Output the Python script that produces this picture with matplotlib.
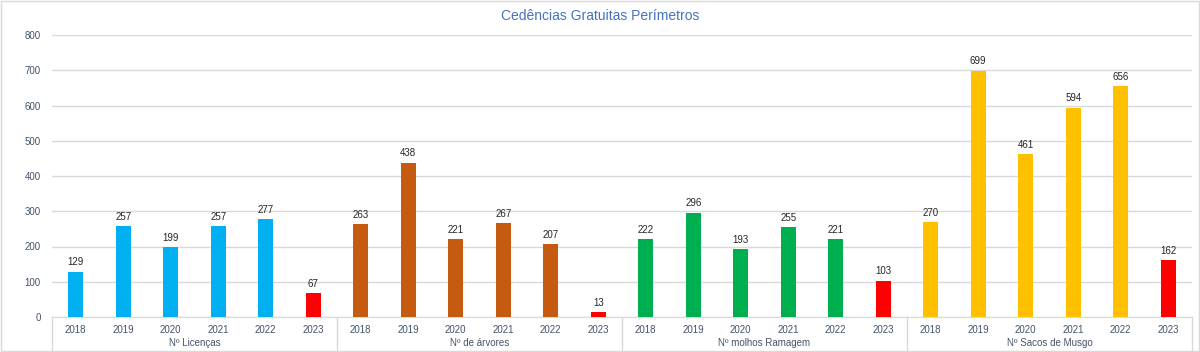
import matplotlib.pyplot as plt
from matplotlib.transforms import blended_transform_factory

# --- dados ---
anos = ['2018', '2019', '2020', '2021', '2022', '2023']
grupos = ['Nº Licenças', 'Nº de árvores', 'Nº molhos Ramagem', 'Nº Sacos de Musgo']
licencas = [129, 257, 199, 257, 277, 67]
arvores = [263, 438, 221, 267, 207, 13]
ramagem = [222, 296, 193, 255, 221, 103]
musgo = [270, 699, 461, 594, 656, 162]

cores_grupo = ['#00B0F0', '#C55A11', '#00B050', '#FFC000']
cor_2023 = '#FF0000'

plt.rcParams['font.family'] = ['Liberation Sans', 'DejaVu Sans']

fig = plt.figure(figsize=(12, 3.52), dpi=100)
ax = fig.add_axes([52 / 1200, 1 - 317 / 352, 1140 / 1200, 282 / 352])

series = [licencas, arvores, ramagem, musgo]
x = 0
for g, vals in enumerate(series):
    for i, v in enumerate(vals):
        cor = cor_2023 if anos[i] == '2023' else cores_grupo[g]
        ax.bar(x, v, width=0.32, color=cor, zorder=3)
        ax.text(x, v + 12, str(v), ha='center', va='bottom', fontsize=7, color='#262626')
        x += 1

n = x
ax.set_xlim(-0.5, n - 0.5)
ax.set_ylim(0, 800)
ax.set_yticks(range(0, 801, 100))
ax.tick_params(axis='y', length=0, labelsize=7, labelcolor='#44546A', pad=8)
ax.grid(axis='y', color='#D9D9D9', linewidth=1, zorder=0)
for s in ['top', 'right', 'left']:
    ax.spines[s].set_visible(False)
ax.spines['bottom'].set_color('#D9D9D9')

ax.set_xticks(range(n))
ax.set_xticklabels(anos * len(grupos))
ax.tick_params(axis='x', length=0, labelsize=7, labelcolor='#44546A', pad=6)

# rótulos dos grupos e separadores
trans = blended_transform_factory(ax.transData, ax.transAxes)
for g, nome in enumerate(grupos):
    centro = g * 6 + 2.5
    ax.text(centro, -26 / 282, nome, transform=trans, ha='center', va='center',
            fontsize=7, color='#44546A')
for k in range(len(grupos) + 1):
    xs = k * 6 - 0.5
    ax.plot([xs, xs], [0, -35 / 282], transform=trans, color='#D9D9D9',
            linewidth=1, clip_on=False)

fig.text(0.5, 1 - 16 / 352, 'Cedências Gratuitas Perímetros', ha='center', va='center',
         fontsize=10, color='#4472C4')

# moldura
fig.patches.append(plt.Rectangle((0.001, 0.002), 0.998, 0.996, transform=fig.transFigure,
                                 fill=False, edgecolor='#D9D9D9', linewidth=1))

fig.savefig('out.png', dpi=100)
